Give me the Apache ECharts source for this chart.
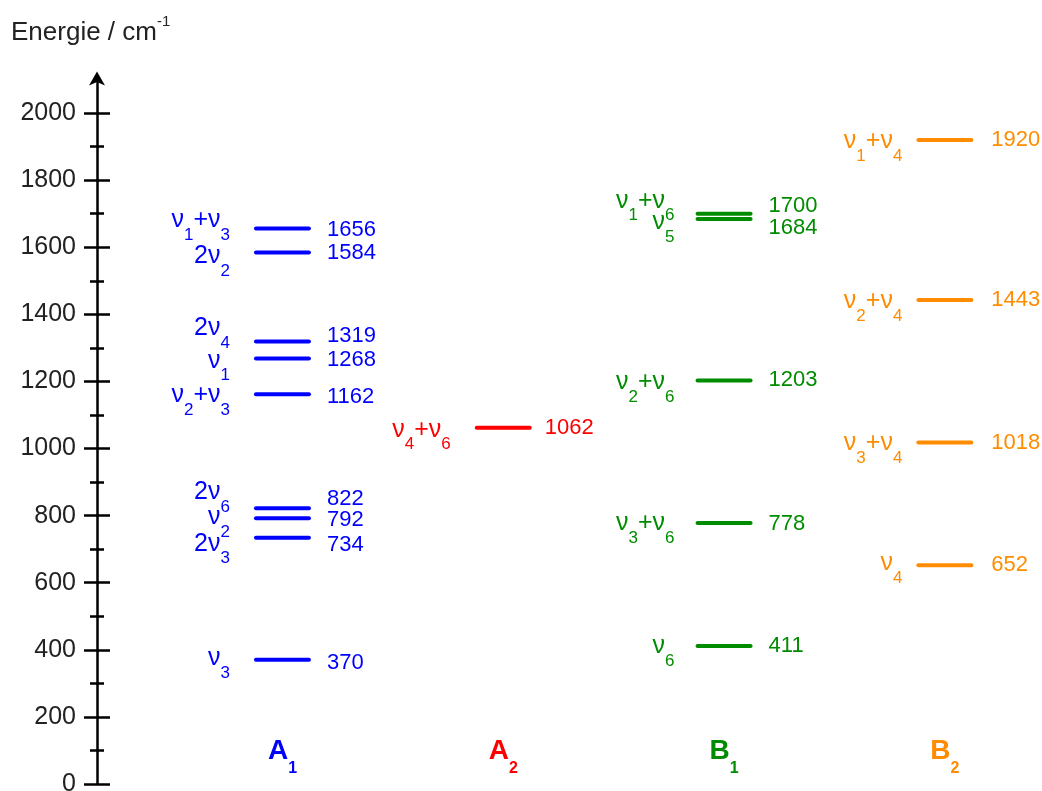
<!DOCTYPE html>
<html>
<head>
<meta charset="utf-8">
<script src="https://cdn.jsdelivr.net/npm/echarts@6/dist/echarts.min.js"></script>
<style>
	html, body { margin: 0; padding: 0; background: #fff; }
	#chart { width: 1042px; height: 791px; }
</style>
</head>
<body>
<div id="chart"></div>
<script>
// symmetry species, one column each
let species = ["A1", "A2", "B1", "B2"];
let speciesColor = ["#0000ff", "#ff0000", "#008c00", "#ff8c00"];

// vibrational levels, cm-1
let a1Energy = [1656, 1584, 1319, 1268, 1162, 822, 792, 734, 370];
let a1Name = ["ν1+ν3", "2ν2", "2ν4", "ν1", "ν2+ν3", "2ν6", "ν2", "2ν3", "ν3"];
let a2Energy = [1062];
let a2Name = ["ν4+ν6"];
let b1Energy = [1700, 1684, 1203, 778, 411];
let b1Name = ["ν1+ν6", "ν5", "ν2+ν6", "ν3+ν6", "ν6"];
let b2Energy = [1920, 1443, 1018, 652];
let b2Name = ["ν1+ν4", "ν2+ν4", "ν3+ν4", "ν4"];

// energy axis ticks
let majorTicks = [0, 200, 400, 600, 800, 1000, 1200, 1400, 1600, 1800, 2000];
let minorTicks = [100, 300, 500, 700, 900, 1100, 1300, 1500, 1700, 1900];

// hand placed label shifts (px) where levels crowd
let nameShift = { 1656: -11, 1584: 1, 1319: -16, 1268: -1, 1162: -2, 822: -19, 792: -4, 734: 3, 370: -5,
	1062: -1, 1700: -16, 1684: 0, 1203: -1, 778: -3, 411: -3, 1920: -2, 1443: -2, 1018: -2, 652: -5 };
let valueShift = { 1656: 1, 1319: -6, 1268: 1, 1162: 3, 822: -9, 792: 2, 734: 7, 370: 3, 1700: -8, 1684: 9, 778: 1 };
let nameGap = [24, 24, 21, 14];
let valueGap = [16, 13, 16, 18];

let FONT = "Liberation Sans";
let echarts = window.echarts;
let myChart = echarts.init(document.getElementById("chart"));

// digits right after ν become subscripts
let richName = function (name) {
	let out = "";
	for (let i = 0; i < name.length; i++) {
		let ch = name[i];
		if (/\d/.test(ch) && name[i - 1] === "ν") {
			out += "{s|" + ch + "}";
		} else {
			out += "{n|" + ch + "}";
		}
	}
	return out;
};

let levels = [
	{ energy: a1Energy, name: a1Name },
	{ energy: a2Energy, name: a2Name },
	{ energy: b1Energy, name: b1Name },
	{ energy: b2Energy, name: b2Name },
];

let series = levels.map((lv, c) => {
	let color = speciesColor[c];
	return {
		type: "custom",
		coordinateSystem: "cartesian2d",
		silent: true,
		animation: false,
		data: lv.energy.map((e, i) => [c, e, i]),
		renderItem: function (params, api) {
			let e = api.value(1);
			let i = api.value(2);
			let p = api.coord([api.value(0), e]);
			let half = 26.5;
			return {
				type: "group",
				children: [
					{
						type: "line",
						shape: { x1: p[0] - half, y1: p[1], x2: p[0] + half, y2: p[1] },
						style: { stroke: color, lineWidth: 4, lineCap: "round" },
					},
					{
						type: "text",
						x: p[0] - half - 2 - nameGap[c],
						y: p[1] + 3 + (nameShift[e] || 0),
						style: {
							text: richName(lv.name[i]),
							align: "right",
							verticalAlign: "middle",
							rich: {
								n: { fontSize: 25, fontFamily: FONT, fill: color },
								s: { fontSize: 17, fontFamily: FONT, fill: color, padding: [30, 0, 0, 0] },
							},
						},
					},
					{
						type: "text",
						x: p[0] + half + 2 + valueGap[c],
						y: p[1] + (valueShift[e] || 0),
						style: {
							text: String(e),
							align: "left",
							verticalAlign: "middle",
							fontSize: 22,
							fontFamily: FONT,
							fill: color,
						},
					},
				],
			};
		},
	};
});

let speciesRich = {};
speciesColor.forEach((col, c) => {
	speciesRich["m" + c] = { fontSize: 28, fontWeight: "bold", fontFamily: FONT, color: col };
	speciesRich["s" + c] = { fontSize: 16, fontWeight: "bold", fontFamily: FONT, color: col, padding: [34, 0, 0, 0] };
});

let tickAxis = function (ticks, len, inside) {
	return {
		type: "value",
		min: 0,
		max: 2100,
		position: "left",
		axisLine: { show: false, onZero: false },
		axisTick: { show: true, customValues: ticks, length: len, inside: inside, lineStyle: { color: "#000", width: 2.5 } },
		axisLabel: { show: false },
		splitLine: { show: false },
	};
};

let option = {
	backgroundColor: "#fff",
	title: {
		text: "{a|Energie / cm}{b|-1}",
		left: 11,
		top: 14,
		padding: 0,
		textStyle: {
			fontWeight: "normal",
			rich: {
				a: { fontSize: 26, fontWeight: "normal", fontFamily: FONT, color: "#222" },
				b: { fontSize: 15, fontWeight: "normal", fontFamily: FONT, color: "#222", padding: [0, 0, 23, 0] },
			},
		},
	},
	grid: {
		left: 97,
		right: 0,
		top: 79.5,
		bottom: 7,
		outerBoundsMode: "none",
		containLabel: false,
	},
	xAxis: {
		type: "value",
		min: -0.84,
		max: 3.44,
		axisLine: { show: false, onZero: false },
		axisTick: { show: false },
		splitLine: { show: false },
		axisLabel: {
			show: true,
			inside: true,
			margin: 7.5,
			customValues: [0, 1, 2, 3],
			formatter: function (v) {
				let c = Math.round(v);
				return "{m" + c + "|" + species[c][0] + "}{s" + c + "|" + species[c][1] + "}";
			},
			rich: speciesRich,
		},
	},
	yAxis: [
		{
			type: "value",
			min: 0,
			max: 2100,
			position: "left",
			axisLine: {
				show: true,
				onZero: false,
				symbol: ["none", "arrow"],
				symbolSize: [12, 14],
				symbolOffset: [0, 8],
				lineStyle: { color: "#000", width: 2.5 },
			},
			axisTick: { show: true, customValues: majorTicks, length: 13, lineStyle: { color: "#000", width: 2.5 } },
			axisLabel: {
				show: true,
				customValues: majorTicks,
				margin: 21,
				fontSize: 25,
				color: "#222",
				fontFamily: FONT,
				formatter: (v) => String(v),
			},
			splitLine: { show: false },
		},
		tickAxis(majorTicks, 13, true),
		tickAxis(minorTicks, 7, false),
		tickAxis(minorTicks, 7, true),
	],
	series: series,
};

myChart.setOption(option);
</script>
</body>
</html>
